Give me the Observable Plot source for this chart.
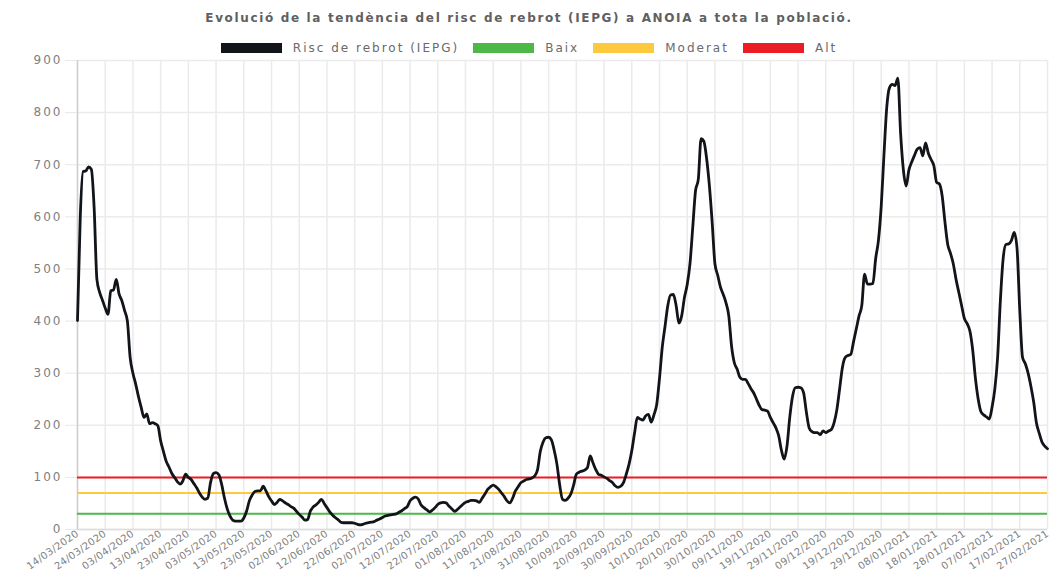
<!DOCTYPE html>
<html>
<head>
<meta charset="utf-8">
<script src="https://cdn.jsdelivr.net/npm/d3@7"></script>
<script src="https://cdn.jsdelivr.net/npm/@observablehq/plot@0.6"></script>
<style>
  html, body { margin: 0; padding: 0; background: #fff; }
  body { width: 1058px; height: 577px; position: relative; overflow: hidden; font-family: "DejaVu Sans", sans-serif; }
  #title { position: absolute; top: 11px; left: 0; width: 1058px; text-align: center; font-weight: bold; font-size: 12px; letter-spacing: 1.65px; color: #606060; z-index: 2; }
  #legend { position: absolute; top: 41px; left: 0; width: 1058px; display: flex; justify-content: center; align-items: center; font-size: 12px; letter-spacing: 2px; color: #6a6a6a; z-index: 2; }
  .item { display: flex; align-items: center; margin: 0 7px; }
  .sw { width: 61px; height: 10px; margin-right: 11px; }
  #chart { position: absolute; top: 48px; left: 0; z-index: 1; }
  g[aria-label="x-axis tick label"] text { letter-spacing: 0.3px; }
  g[aria-label="y-axis tick label"] text { letter-spacing: 2px; }
</style>
</head>
<body>
<div id="title"></div>
<div id="legend"></div>
<div id="chart"></div>
<script>
const titleText = "Evolució de la tendència del risc de rebrot (IEPG) a ANOIA a tota la població.";
const seriesNames = ["Risc de rebrot (IEPG)", "Baix", "Moderat", "Alt"];
const seriesColors = ["#111418", "#4cb848", "#fcc93f", "#ec1c24"];
const thresholds = [30, 70, 100]; // Baix, Moderat, Alt
const startDate = "2020-03-14";
// daily IEPG values from 14/03/2020 to 27/02/2021
const iepg = [
  401, 600, 687, 688, 696, 691, 618, 480, 455, 440,
  425, 413, 458, 460, 480, 452, 439, 420, 400, 330,
  300, 279, 255, 234, 215, 222, 203, 205, 203, 199,
  170, 150, 131, 120, 108, 100, 92, 87, 93, 106,
  100, 96, 88, 80, 70, 62, 58, 60, 90, 107,
  109, 105, 87, 61, 40, 26, 18, 16, 16, 16,
  22, 35, 55, 66, 73, 74, 74, 83, 74, 63,
  55, 48, 52, 58, 55, 51, 48, 44, 41, 35,
  29, 24, 18, 19, 35, 43, 47, 52, 58, 50,
  42, 34, 28, 23, 19, 14, 13, 13, 13, 13,
  12, 10, 9, 10, 12, 13, 14, 15, 18, 20,
  23, 26, 27, 28, 29, 30, 33, 36, 40, 44,
  55, 60, 62, 58, 47, 42, 38, 34, 37, 42,
  48, 51, 52, 51, 45, 40, 35, 38, 43, 48,
  52, 54, 56, 56, 55, 52, 60, 68, 77, 82,
  85, 82, 77, 70, 63, 55, 51, 60, 74, 82,
  90, 93, 96, 97, 99, 103, 115, 150, 168, 176,
  177, 172, 152, 125, 85, 58, 56, 60, 68, 85,
  106, 110, 112, 114, 119, 141, 128, 115, 106, 104,
  101, 98, 94, 90, 84, 81, 83, 90, 106, 125,
  151, 185, 215, 212, 210, 218, 221, 206, 220, 240,
  290, 350, 390, 430, 450, 451, 430, 396, 410, 445,
  470, 510, 580, 650, 672, 750, 745, 712, 660, 590,
  510, 488, 465, 451, 435, 410, 352, 320, 308, 292,
  288, 288, 280, 270, 262, 250, 238, 230, 229, 227,
  215, 205, 195, 180, 152, 135, 160, 215, 255, 272,
  273, 272, 262, 225, 195, 188, 186, 186, 182, 189,
  186, 189, 192, 205, 230, 270, 311, 330, 334, 336,
  360, 385, 410, 430, 490, 471, 471, 472, 520, 555,
  620, 720, 810, 848, 854, 852, 866, 760, 690, 659,
  690, 705, 718, 730, 733, 717, 742, 722, 710, 698,
  666, 663, 640, 590, 547, 530, 510, 480, 455, 430,
  405, 395, 381, 345, 290, 250, 226, 220, 216, 212,
  235, 270, 330, 440, 520, 547, 548, 555, 570, 540,
  420, 330, 318, 300, 275, 245, 205, 185, 168, 160,
  155
];
const xTickLabels = [
  "14/03/2020","24/03/2020","03/04/2020","13/04/2020","23/04/2020","03/05/2020",
  "13/05/2020","23/05/2020","02/06/2020","12/06/2020","22/06/2020","02/07/2020",
  "12/07/2020","22/07/2020","01/08/2020","11/08/2020","21/08/2020","31/08/2020",
  "10/09/2020","20/09/2020","30/09/2020","10/10/2020","20/10/2020","30/10/2020",
  "09/11/2020","19/11/2020","29/11/2020","09/12/2020","19/12/2020","29/12/2020",
  "08/01/2021","18/01/2021","28/01/2021","07/02/2021","17/02/2021","27/02/2021"
];
const yTicks = [0, 100, 200, 300, 400, 500, 600, 700, 800, 900];

// build
document.getElementById("title").textContent = titleText;
const legend = document.getElementById("legend");
seriesNames.forEach((n, i) => {
  const it = document.createElement("div"); it.className = "item";
  const sw = document.createElement("div"); sw.className = "sw"; sw.style.background = seriesColors[i];
  const tx = document.createElement("span"); tx.textContent = n;
  it.appendChild(sw); it.appendChild(tx); legend.appendChild(it);
});

const parseDMY = d3.utcParse("%d/%m/%Y");
const fmtDMY = d3.utcFormat("%d/%m/%Y");
const t0 = d3.utcParse("%Y-%m-%d")(startDate);
const data = iepg.map((v, i) => ({date: d3.utcDay.offset(t0, i), value: v}));
const xTicks = xTickLabels.map(parseDMY);
const domainX = [xTicks[0], xTicks[xTicks.length - 1]];
const thrData = thresholds.map((t, i) => ({value: t, color: seriesColors[i + 1]}));

const chart = Plot.plot({
  width: 1058,
  height: 529,
  marginTop: 12,
  marginBottom: 48,
  marginLeft: 77,
  marginRight: 11,
  style: {fontFamily: "DejaVu Sans, sans-serif", color: "#808080", background: "transparent"},
  x: {type: "utc", domain: domainX, ticks: xTicks, tickFormat: fmtDMY, label: null},
  y: {domain: [0, 900], ticks: yTicks, label: null},
  marks: [
    Plot.gridX(xTicks, {stroke: "#ebebeb", strokeOpacity: 1, strokeWidth: 1.5}),
    Plot.gridY(yTicks, {stroke: "#ebebeb", strokeOpacity: 1, strokeWidth: 1.5}),
    Plot.axisY(yTicks, {tickSize: 12, tickPadding: 3, stroke: "#e8e8e8", fontSize: 12, fill: "#808080"}),
    Plot.axisX(xTicks, {tickSize: 0, tickPadding: 3, tickRotate: -35, fontSize: 10, fill: "#808080", tickFormat: fmtDMY}),
    Plot.ruleX([domainX[0]], {stroke: "#cfcfcf", strokeWidth: 1.5}),
    Plot.ruleY([0], {stroke: "#dcdcdc", strokeWidth: 1.5}),
    Plot.ruleY(thrData, {y: "value", stroke: "color", strokeWidth: 2}),
    Plot.line(data, {x: "date", y: "value", stroke: seriesColors[0], strokeWidth: 2.8, curve: "monotone-x"})
  ]
});
document.getElementById("chart").appendChild(chart);
</script>
</body>
</html>
